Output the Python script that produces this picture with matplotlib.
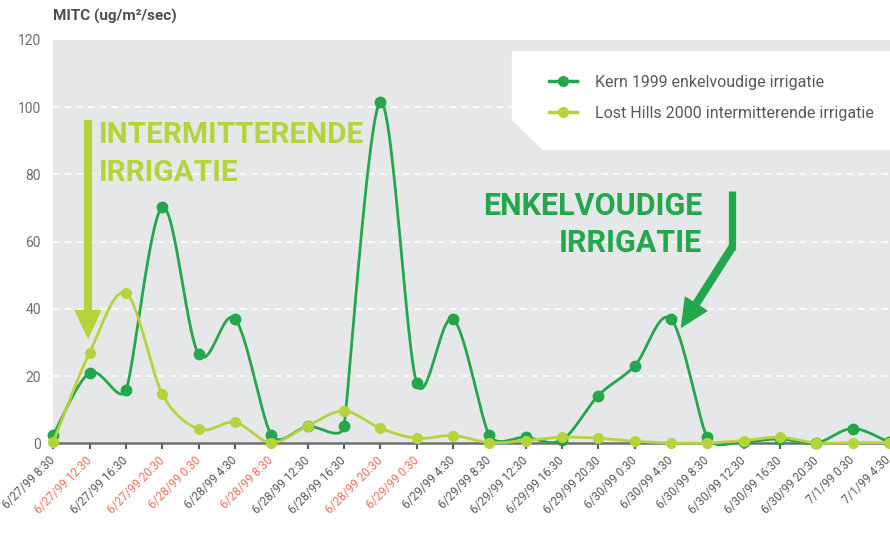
import numpy as np
import matplotlib
matplotlib.use("Agg")
import matplotlib.pyplot as plt
from matplotlib.patches import Polygon
from matplotlib.lines import Line2D
from matplotlib.transforms import ScaledTranslation

# data
time_labels = [
    "6/27/99 8:30", "6/27/99 12:30", "6/27/99 16:30", "6/27/99 20:30",
    "6/28/99 0:30", "6/28/99 4:30", "6/28/99 8:30", "6/28/99 12:30",
    "6/28/99 16:30", "6/28/99 20:30", "6/29/99 0:30", "6/29/99 4:30",
    "6/29/99 8:30", "6/29/99 12:30", "6/29/99 16:30", "6/29/99 20:30",
    "6/30/99 0:30", "6/30/99 4:30", "6/30/99 8:30", "6/30/99 12:30",
    "6/30/99 16:30", "6/30/99 20:30", "7/1/99 0:30", "7/1/99 4:30",
]
red_labels = {"6/27/99 12:30", "6/27/99 20:30", "6/28/99 0:30",
              "6/28/99 8:30", "6/28/99 20:30", "6/29/99 0:30"}

kern_1999 = [2.5, 21, 15.8, 70.2, 26.5, 37, 2.5, 5, 5, 101.6, 18, 37,
             2.5, 1.8, 1.0, 14.2, 23, 37, 1.8, 0.5, 1.3, 0.1, 4.4, 0.3]
lost_hills_2000 = [0.4, 27, 44.6, 14.6, 4.2, 6.2, 0.2, 5.2, 9.6, 4.5, 1.5, 2.3,
                   0.2, 0.8, 1.8, 1.5, 0.6, 0.1, 0.1, 0.8, 1.8, 0.1, 0.2, 0.2]

DARK = "#22a84a"
LIGHT = "#b5d43b"
GREY_BG = "#e6e7e8"
TXT = "#6d6e71"
RED = "#f26d5b"

plt.rcParams["font.family"] = ["Roboto", "DejaVu Sans"]


def smooth(y, sx=36.4, sy=3.36, cap=0.45, n=30):
    # catmull-rom bezier in screen space, with the control arms capped by
    # the shorter neighbouring segment (keeps overshoot small, like the original)
    y = np.asarray(y, dtype=float)
    x = np.arange(len(y), dtype=float)
    P = np.column_stack([x * sx, y * sy])
    k = len(P)
    seg = np.hypot(*(P[1:] - P[:-1]).T)
    M = np.zeros_like(P)
    for i in range(k):
        m = (P[min(i + 1, k - 1)] - P[max(i - 1, 0)]) / 6
        near = min(seg[max(i - 1, 0)], seg[min(i, k - 2)])
        ln = np.hypot(*m)
        if ln > cap * near:
            m = m * cap * near / ln
        M[i] = m
    t = np.linspace(0, 1, n, endpoint=False)[:, None]
    pts = []
    for i in range(k - 1):
        c1 = P[i] + M[i]
        c2 = P[i + 1] - M[i + 1]
        pts.append((1 - t) ** 3 * P[i] + 3 * (1 - t) ** 2 * t * c1
                   + 3 * (1 - t) * t ** 2 * c2 + t ** 3 * P[i + 1])
    pts.append(P[-1:])
    pts = np.vstack(pts)
    return pts[:, 0] / sx, pts[:, 1] / sy


fig = plt.figure(figsize=(8.9, 5.41), dpi=100)
ax = fig.add_axes([0.0599, 0.1806, 0.9401, 0.7455])
ax.set_facecolor(GREY_BG)
ax.set_xlim(0, len(time_labels) - 1 + 0.03)
ax.set_ylim(0, 120)

ax.set_yticks(range(0, 121, 20))
for v in range(20, 120, 20):
    ax.axhline(v, color="white", lw=1.2, ls=(0, (4, 3)), zorder=1)

xi = np.arange(len(time_labels))
lx, ly = smooth(kern_1999)
ax.plot(lx, ly, color=DARK, lw=2.0, zorder=3, clip_on=False)
ax.plot(xi, kern_1999, "o", color=DARK, ms=7.5, zorder=3, clip_on=False)
lx, ly = smooth(lost_hills_2000)
ax.plot(lx, ly, color=LIGHT, lw=2.0, zorder=4, clip_on=False)
ax.plot(xi, lost_hills_2000, "o", color=LIGHT, ms=7, zorder=4, clip_on=False)

for s in ["top", "right", "left"]:
    ax.spines[s].set_visible(False)
ax.spines["bottom"].set_color(TXT)
ax.spines["bottom"].set_linewidth(1.8)
ax.spines["bottom"].set_zorder(2)

ax.set_xticks(xi)
ax.set_xticklabels(time_labels, rotation=45, ha="right", va="center",
                   rotation_mode="anchor", fontsize=8.5)
labels = ax.get_xticklabels()
for i, lab in enumerate(labels):
    lab.set_color(RED if lab.get_text() in red_labels else "#58595b")
    dx = 5 if i < len(labels) - 1 else -3  # keep the last one inside the figure
    lab.set_transform(lab.get_transform()
                      + ScaledTranslation(dx / 72, 1 / 72, fig.dpi_scale_trans))
ax.tick_params(axis="x", length=4, width=1.5, color="#58595b", pad=7)
ax.tick_params(axis="y", length=0, labelsize=10, labelcolor=TXT, pad=9)

fig.text(0.0599, 0.970, "MITC (ug/m²/sec)", fontsize=11, fontweight="bold",
         color="#4d4d4f", va="center", ha="left")

# legend box with a clipped corner
box = Polygon([(0.548, 0.973), (1.0, 0.973), (1.0, 0.727), (0.585, 0.727),
               (0.548, 0.802)], closed=True, transform=ax.transAxes,
              facecolor="white", edgecolor="none", zorder=5)
ax.add_patch(box)
handles = [
    Line2D([], [], color=DARK, lw=2.5, marker="o", ms=7),
    Line2D([], [], color=LIGHT, lw=2.5, marker="o", ms=7),
]
leg = ax.legend(handles, ["Kern 1999 enkelvoudige irrigatie",
                          "Lost Hills 2000 intermitterende irrigatie"],
                loc="upper left", bbox_to_anchor=(0.592, 0.913), frameon=False,
                fontsize=11.5, handlelength=1.8, handletextpad=1.1,
                borderpad=0, borderaxespad=0, labelspacing=1.0)
leg.set_zorder(6)
for t in leg.get_texts():
    t.set_color("#58595b")

# annotations
ax.text(1.257, 89.4, "INTERMITTERENDE", color=LIGHT, fontsize=21.5,
        fontweight="bold", va="baseline", ha="left", zorder=2)
ax.text(1.257, 78.1, "IRRIGATIE", color=LIGHT, fontsize=21.5,
        fontweight="bold", va="baseline", ha="left", zorder=2)
ax.annotate("", xy=(0.955, 31.4), xytext=(0.955, 96),
            arrowprops=dict(arrowstyle="simple,head_width=1.3,head_length=1.4,tail_width=0.35",
                            color=LIGHT, mutation_scale=14, shrinkA=0, shrinkB=0),
            zorder=2)

ax.text(17.86, 67.9, "ENKELVOUDIGE", color=DARK, fontsize=22,
        fontweight="bold", va="baseline", ha="right", zorder=2)
ax.text(17.86, 56.9, "IRRIGATIE", color=DARK, fontsize=22,
        fontweight="bold", va="baseline", ha="right", zorder=2)
ax.plot([18.69, 18.69], [75.0, 57.5], color=DARK, lw=5.2,
        solid_capstyle="butt", zorder=2)
ax.annotate("", xy=(17.29, 34.6), xytext=(18.69, 58.4),
            arrowprops=dict(arrowstyle="simple,head_width=1.3,head_length=1.4,tail_width=0.35",
                            color=DARK, mutation_scale=14, shrinkA=0, shrinkB=0),
            zorder=2)

fig.savefig("out.png", dpi=100, facecolor="white")
